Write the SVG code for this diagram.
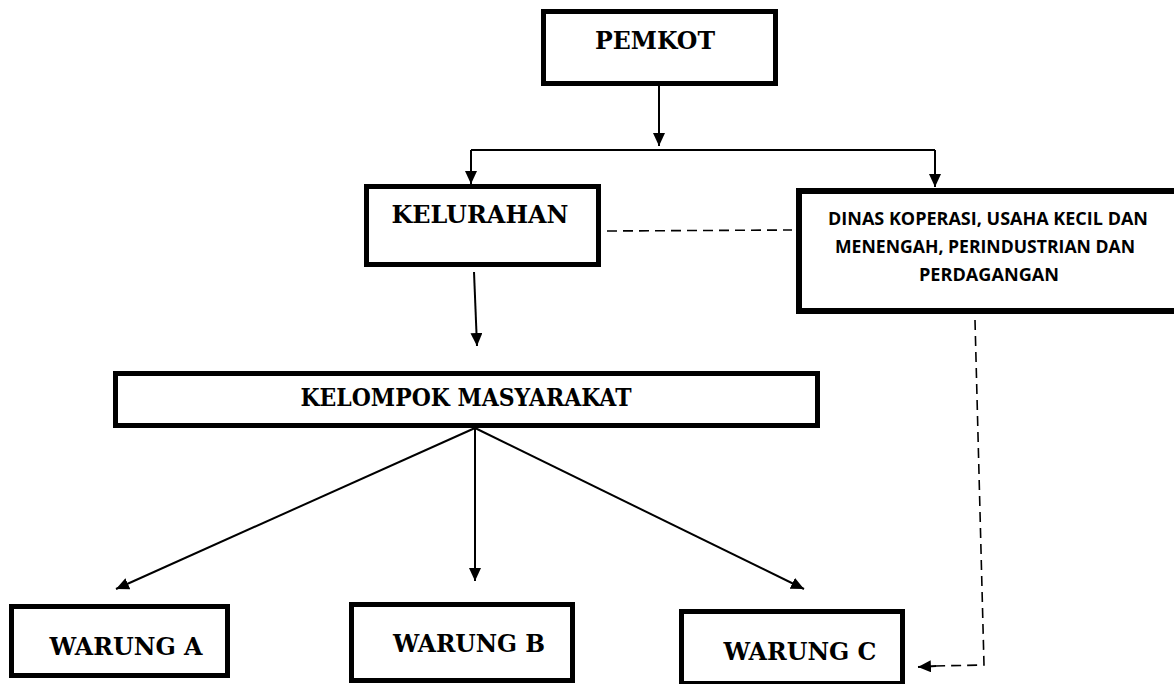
<svg xmlns="http://www.w3.org/2000/svg" width="1174" height="684" viewBox="0 0 1174 684">
<defs>
<marker id="ah" markerUnits="userSpaceOnUse" markerWidth="14" markerHeight="14" refX="13" refY="6" orient="auto">
<path d="M0,0 L13,6 L0,12 Z" fill="#000"/>
</marker>
</defs>
<style>
.box{fill:#fff;stroke:#000;stroke-width:5}
.t{font-family:"DejaVu Serif","Liberation Serif",serif;font-weight:bold;font-size:24px;fill:#000;text-anchor:middle}
.s{font-family:"Open Sans","Liberation Sans",sans-serif;font-weight:bold;font-size:17.5px;fill:#000;text-anchor:middle}
.ln{stroke:#000;stroke-width:2;fill:none}
.ar{stroke:#000;stroke-width:2;fill:none;marker-end:url(#ah)}
.dash{stroke:#000;stroke-width:1.6;fill:none;stroke-dasharray:10 6}
</style>
<rect width="1174" height="684" fill="#fff"/>
<g id="pemkot">
<rect class="box" x="543.5" y="11.5" width="232" height="72"/>
<text class="t" x="655" y="49" textLength="120" lengthAdjust="spacingAndGlyphs">PEMKOT</text>
</g>
<g id="kelurahan">
<rect class="box" x="366.5" y="186.5" width="232" height="78"/>
<text class="t" x="480" y="223" textLength="177" lengthAdjust="spacingAndGlyphs">KELURAHAN</text>
</g>
<g id="dinas">
<rect x="799" y="191" width="390" height="120" fill="#fff" stroke="#000" stroke-width="6"/>
<text class="s" x="988" y="225" textLength="320" lengthAdjust="spacingAndGlyphs">DINAS KOPERASI, USAHA KECIL DAN</text>
<text class="s" x="985" y="253" textLength="300" lengthAdjust="spacingAndGlyphs">MENENGAH, PERINDUSTRIAN DAN</text>
<text class="s" x="989" y="281" textLength="140" lengthAdjust="spacingAndGlyphs">PERDAGANGAN</text>
</g>
<g id="kelompok">
<rect class="box" x="115.5" y="373.5" width="702" height="52"/>
<text class="t" x="466" y="406" textLength="331" lengthAdjust="spacingAndGlyphs">KELOMPOK MASYARAKAT</text>
</g>
<g id="warung-a">
<rect class="box" x="11.5" y="606.5" width="216" height="69"/>
<text class="t" x="126" y="655" textLength="153" lengthAdjust="spacingAndGlyphs">WARUNG A</text>
</g>
<g id="warung-b">
<rect class="box" x="351.5" y="604.5" width="221" height="76"/>
<text class="t" x="469" y="652" textLength="152" lengthAdjust="spacingAndGlyphs">WARUNG B</text>
</g>
<g id="warung-c">
<rect class="box" x="681.5" y="611.5" width="221" height="72"/>
<text class="t" x="800" y="660" textLength="153" lengthAdjust="spacingAndGlyphs">WARUNG C</text>
</g>
<g id="connectors">
<line class="ar" x1="659" y1="86" x2="659" y2="146"/>
<line class="ln" x1="471" y1="150" x2="935" y2="150" stroke-width="1.5"/>
<line class="ar" x1="471" y1="150" x2="471" y2="184"/>
<line class="ar" x1="935" y1="150" x2="935" y2="187"/>
<line class="dash" x1="607" y1="231" x2="792" y2="230"/>
<line class="ar" x1="474" y1="272" x2="477" y2="346"/>
<line class="ar" x1="475" y1="428" x2="116" y2="589"/>
<line class="ar" x1="475" y1="428" x2="475" y2="581"/>
<line class="ar" x1="475" y1="428" x2="804" y2="589"/>
<polyline class="dash" points="975,320 984,665 935,666" stroke-dasharray="14 5"/>
<line class="ar" x1="936" y1="666" x2="918" y2="667"/>
</g>
</svg>
